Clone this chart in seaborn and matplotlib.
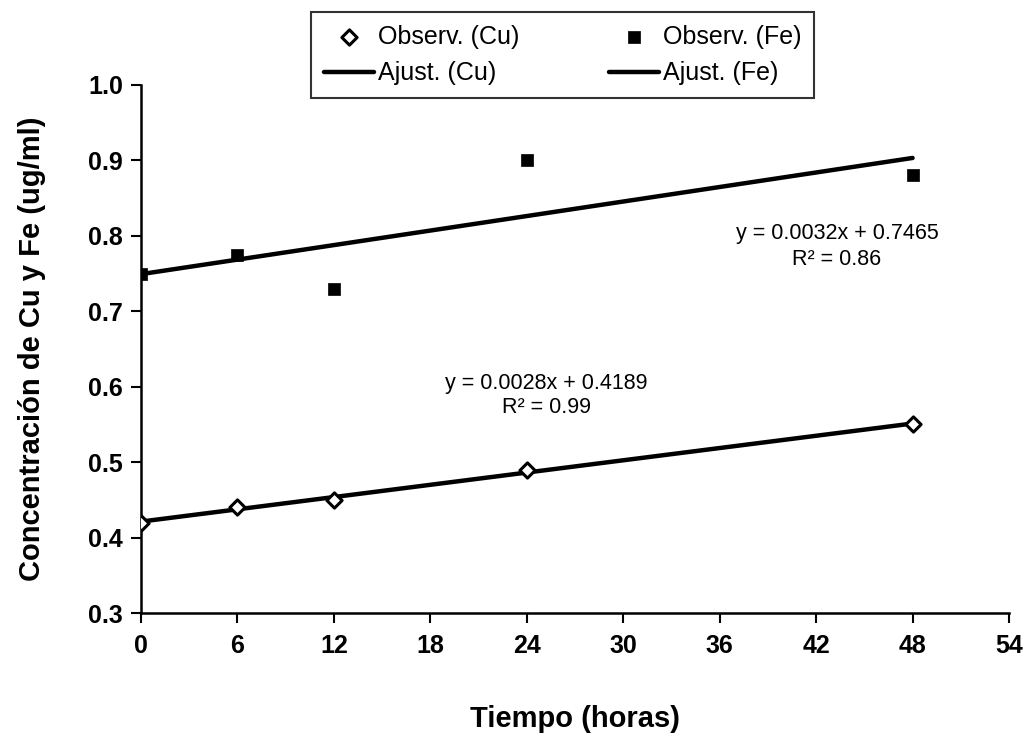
import numpy as np
import pandas as pd
import matplotlib
matplotlib.use("Agg")
import matplotlib.pyplot as plt
import seaborn as sns

# Data
tiempo = [0, 6, 12, 24, 48]
cu_obs = [0.42, 0.44, 0.45, 0.49, 0.55]
fe_obs = [0.75, 0.775, 0.73, 0.90, 0.88]
x_ticks = [0, 6, 12, 18, 24, 30, 36, 42, 48, 54]
y_ticks = [0.3, 0.4, 0.5, 0.6, 0.7, 0.8, 0.9, 1.0]
eq_cu = "y = 0.0028x + 0.4189\nR² = 0.99"
eq_fe = "y = 0.0032x + 0.7465\nR² = 0.86"

sns.set_theme(style="white")
plt.rcParams['font.family'] = ['Liberation Sans', 'DejaVu Sans']
plt.rcParams['text.color'] = 'black'
plt.rcParams['axes.labelcolor'] = 'black'

df = pd.DataFrame({"t": tiempo, "cu": cu_obs, "fe": fe_obs})

fig = plt.figure(figsize=(10.33, 7.44), dpi=100)
ax = fig.add_axes([0.1365, 0.176, 0.8403, 0.7098])

sns.regplot(data=df, x="t", y="cu", scatter=False, ci=None, ax=ax,
            label="Ajust. (Cu)", line_kws=dict(color="black", lw=3.2))
sns.regplot(data=df, x="t", y="fe", scatter=False, ci=None, ax=ax,
            label="Ajust. (Fe)", line_kws=dict(color="black", lw=3.2))
sns.scatterplot(data=df, x="t", y="cu", marker="D", s=60, facecolor="white",
                edgecolor="black", linewidth=2.2, ax=ax, label="Observ. (Cu)", zorder=5)
sns.scatterplot(data=df, x="t", y="fe", marker="s", s=80, color="black",
                edgecolor="black", linewidth=0.5, ax=ax, label="Observ. (Fe)", zorder=5)

ax.set_xlim(0, 54)
ax.set_ylim(0.3, 1.0)
ax.set_xticks(x_ticks)
ax.set_yticks(y_ticks)
ax.set_xticklabels([str(v) for v in x_ticks], fontweight="bold")
ax.set_yticklabels([f"{v:.1f}" for v in y_ticks], fontweight="bold")
ax.tick_params(axis="both", which="major", labelsize=18, length=7, width=1.5,
               direction="out", bottom=True, left=True, colors="black")
ax.tick_params(axis="x", pad=8)
ax.tick_params(axis="y", pad=6)
for s in ["top", "right"]:
    ax.spines[s].set_visible(False)
for s in ["left", "bottom"]:
    ax.spines[s].set_color("black")
    ax.spines[s].set_linewidth(1.8)

ax.set_xlabel("Tiempo (horas)", fontsize=21, fontweight="bold", labelpad=34, color="black")
ax.set_ylabel("Concentración de Cu y Fe (ug/ml)", fontsize=21, fontweight="bold",
              labelpad=30, color="black")

ax.text(43.3, 0.786, eq_fe, ha="center", va="center", fontsize=15.5, linespacing=1.3,
        color="black")
ax.text(25.2, 0.588, eq_cu, ha="center", va="center", fontsize=15.5, linespacing=1.2,
        color="black")

handles, labels = ax.get_legend_handles_labels()
hmap = dict(zip(labels, handles))
if ax.get_legend() is not None:
    ax.get_legend().remove()
order = ["Observ. (Cu)", "Ajust. (Cu)", "Observ. (Fe)", "Ajust. (Fe)"]
leg = fig.legend([hmap[k] for k in order], order, ncol=2, loc="center",
                 bbox_to_anchor=(0.5445, 0.926), fontsize=18, frameon=True,
                 fancybox=False, edgecolor="black", handlelength=2.0,
                 handletextpad=0.15, columnspacing=3.6, borderpad=0.5,
                 borderaxespad=0, labelspacing=0.5)
leg.get_frame().set_linewidth(1.5)
for t in leg.get_texts():
    t.set_color("black")

fig.savefig("out.png", dpi=100, facecolor="white")
